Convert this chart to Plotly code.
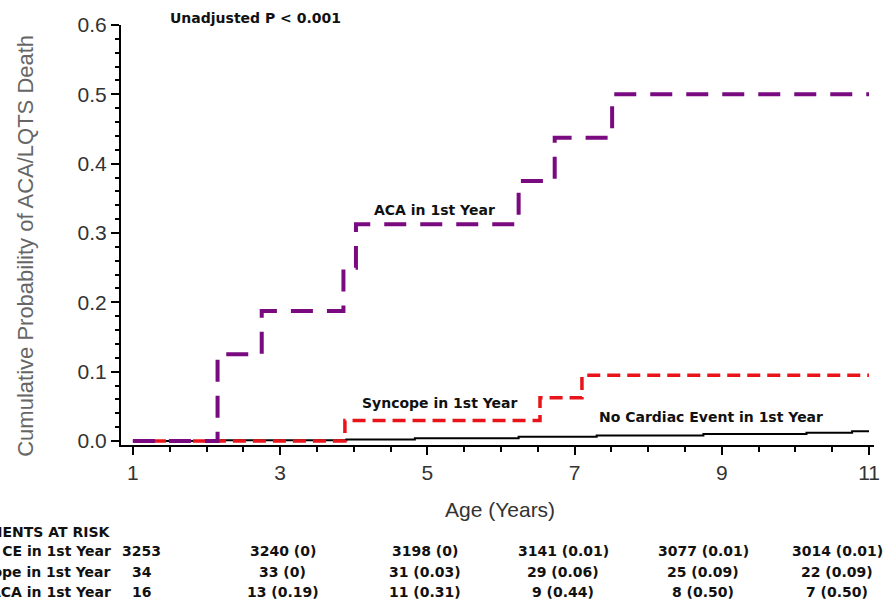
import plotly.graph_objects as go

# ---- data ----
aca_x = [1, 2.15, 2.75, 3.86, 4.03, 6.24, 6.73, 7.51, 11]
aca_y = [0, 0.125, 0.1875, 0.25, 0.3125, 0.375, 0.4375, 0.5, 0.5]

syn_x = [1, 3.88, 6.53, 7.1, 11]
syn_y = [0, 0.0294, 0.0625, 0.0947, 0.0947]

nce_x = [1, 2.2, 3.9, 4.83, 6.24, 7.3, 8.75, 10.15, 10.77, 11]
nce_y = [0, 0.001, 0.002, 0.004, 0.006, 0.008, 0.010, 0.012, 0.014, 0.014]

x_ticks = [1, 3, 5, 7, 9, 11]
y_ticks = [0.0, 0.1, 0.2, 0.3, 0.4, 0.5, 0.6]

risk_header = "PATIENTS AT RISK"
risk_labels = ["No CE in 1st Year", "Syncope in 1st Year", "ACA in 1st Year"]
risk_nce = ["3253", "3240 (0)", "3198 (0)", "3141 (0.01)", "3077 (0.01)", "3014 (0.01)"]
risk_syn = ["34", "33 (0)", "31 (0.03)", "29 (0.06)", "25 (0.09)", "22 (0.09)"]
risk_aca = ["16", "13 (0.19)", "11 (0.31)", "9 (0.44)", "8 (0.50)", "7 (0.50)"]

# ---- layout geometry (pixels) ----
W, H = 888, 608
L, R, T, B = 121, 8, 25, 163
PW, PH = W - L - R, H - T - B


def px(x):
    return (x - L) / PW


def py(y):
    return (H - B - y) / PH


BOLD = "DejaVu Sans"
THIN = "Liberation Sans, Arial, sans-serif"

fig = go.Figure()
fig.add_trace(go.Scatter(x=nce_x, y=nce_y, mode="lines", line_shape="hv",
                         line=dict(color="black", width=2), showlegend=False))
fig.add_trace(go.Scatter(x=syn_x, y=syn_y, mode="lines", line_shape="hv",
                         line=dict(color="#e8141a", width=3.5, dash="13px,7px"),
                         showlegend=False))
fig.add_trace(go.Scatter(x=aca_x, y=aca_y, mode="lines", line_shape="hv",
                         line=dict(color="#7a0a80", width=4, dash="22px,14px"),
                         showlegend=False))

ann = []


def text(x, y, s, size=14, font=BOLD, bold=True, xanchor="center", color="#111"):
    ann.append(dict(xref="paper", yref="paper", x=px(x), y=py(y),
                    text=("<b>%s</b>" % s) if bold else s, showarrow=False,
                    xanchor=xanchor, yanchor="middle",
                    font=dict(family=font, size=size, color=color)))


text(257, 18, "Unadjusted P < 0.001")
text(437, 210, "ACA in 1st Year")
text(443, 403, "Syncope in 1st Year")
text(716, 417, "No Cardiac Event in 1st Year")
text(503, 510, "Age (Years)", size=21, font=THIN, bold=False, color="#333")

# y title
ann.append(dict(xref="paper", yref="paper", x=px(24), y=py(246),
                text="Cumulative Probability of ACA/LQTS Death", showarrow=False,
                textangle=-90, xanchor="center", yanchor="middle",
                font=dict(family=THIN, size=22, color="#666")))

# risk table
row_y = [551, 572, 592]
col_x = [142, 284, 427, 567, 708, 843]
text(113, 532, risk_header, xanchor="right")
for lab, yy in zip(risk_labels, row_y):
    text(113, yy, lab, xanchor="right")
for vals, yy in zip([risk_nce, risk_syn, risk_aca], row_y):
    for v, xx in zip(vals, col_x):
        text(xx, yy, v)

fig.update_layout(
    width=W, height=H,
    margin=dict(l=L, r=R, t=T, b=B, pad=0),
    plot_bgcolor="white", paper_bgcolor="white",
    annotations=ann,
    xaxis=dict(range=[1 - 12 / 74.2, 1 + (PW - 12) / 74.2],
               tickvals=x_ticks, ticktext=[str(v) for v in x_ticks],
               showgrid=False, zeroline=False, showline=True, linecolor="black",
               linewidth=2, ticks="outside", ticklen=8, tickwidth=2, tickcolor="black",
               tickfont=dict(family=THIN, size=21, color="#333"),
               minor=dict(dtick=0.5, ticks="outside", ticklen=5, tickwidth=2,
                          tickcolor="black", showgrid=False)),
    yaxis=dict(range=[0.6 - PH / 693.3, 0.6],
               tickvals=y_ticks, ticktext=["%.1f" % v for v in y_ticks],
               showgrid=False, zeroline=False, showline=True, linecolor="black",
               linewidth=2, ticks="outside", ticklen=8, tickwidth=2, tickcolor="black",
               tickfont=dict(family=THIN, size=21, color="#333"),
               minor=dict(dtick=0.02, ticks="outside", ticklen=4, tickwidth=2,
                          tickcolor="black", showgrid=False)),
)

fig.write_html("out.html", config={"displayModeBar": False},
               post_script="document.body.style.margin='0';document.body.style.overflow='hidden';")
